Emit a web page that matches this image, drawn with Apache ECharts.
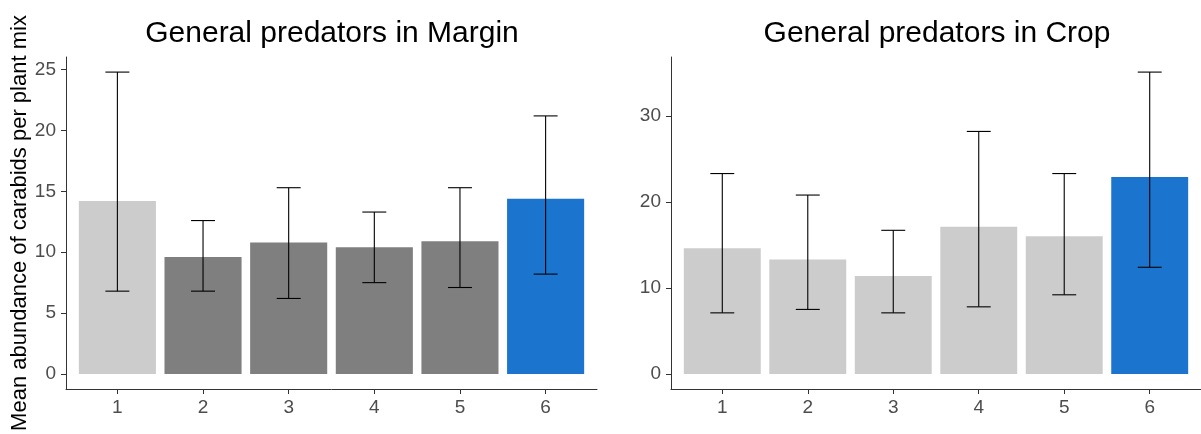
<!DOCTYPE html>
<html>
<head>
<meta charset="utf-8">
<script src="https://cdn.jsdelivr.net/npm/echarts@6/dist/echarts.min.js"></script>
<style>
  html, body { margin: 0; padding: 0; background: #ffffff; }
  #chart { width: 1201px; height: 434px; }
</style>
</head>
<body>
<div id="chart"></div>
<script>
// Plant mixes 1-6
const mixes = [1, 2, 3, 4, 5, 6];
const mixLabels = ['1', '2', '3', '4', '5', '6'];

// Margin: mean abundance with lower/upper interval
const marginMean = [14.2, 9.6, 10.8, 10.4, 10.9, 14.4];
const marginLow  = [6.8, 6.8, 6.2, 7.5, 7.1, 8.2];
const marginHigh = [24.8, 12.6, 15.3, 13.3, 15.3, 21.2];
const marginGroup = ['light', 'dark', 'dark', 'dark', 'dark', 'blue'];

// Crop: mean abundance with lower/upper interval
const cropMean = [14.6, 13.3, 11.4, 17.1, 16.0, 22.9];
const cropLow  = [7.1, 7.5, 7.1, 7.8, 9.2, 12.4];
const cropHigh = [23.3, 20.8, 16.7, 28.2, 23.3, 35.1];
const cropGroup = ['light', 'light', 'light', 'light', 'light', 'blue'];

const marginTicks = [0, 5, 10, 15, 20, 25];
const cropTicks = [0, 10, 20, 30];

const fills = { light: '#cccccc', dark: '#7f7f7f', blue: '#1b75cf' };
const FONT = "'Liberation Sans', Arial, sans-serif";
const BAR_HALF = 0.45;
const CAP_HALF = 0.14;

// 5% padding on both ends of the value range, like the default plot expansion
function expand(lo, hi) {
  const span = hi - lo;
  return [lo - span * 0.05, hi + span * 0.05];
}

function barSeries(idx, means, groups) {
  return {
    type: 'custom',
    xAxisIndex: idx, yAxisIndex: idx,
    data: mixes.map((m, i) => [m, means[i], i]),
    renderItem: function (params, api) {
      const x = api.value(0), y = api.value(1);
      const g = groups[api.value(2)];
      const a = api.coord([x - BAR_HALF, y]);
      const b = api.coord([x + BAR_HALF, 0]);
      return {
        type: 'rect',
        shape: { x: a[0], y: a[1], width: b[0] - a[0], height: b[1] - a[1] },
        style: { fill: fills[g] }
      };
    },
    z: 2
  };
}

function errSeries(idx, lows, highs) {
  return {
    type: 'custom',
    xAxisIndex: idx, yAxisIndex: idx,
    data: mixes.map((m, i) => [m, lows[i], highs[i]]),
    renderItem: function (params, api) {
      const x = api.value(0);
      const lo = api.coord([x, api.value(1)]);
      const hi = api.coord([x, api.value(2)]);
      const l = api.coord([x - CAP_HALF, 0])[0];
      const r = api.coord([x + CAP_HALF, 0])[0];
      const st = { stroke: '#000000', lineWidth: 1.1 };
      return {
        type: 'group',
        children: [
          { type: 'line', shape: { x1: lo[0], y1: lo[1], x2: hi[0], y2: hi[1] }, style: st },
          { type: 'line', shape: { x1: l, y1: lo[1], x2: r, y2: lo[1] }, style: st },
          { type: 'line', shape: { x1: l, y1: hi[1], x2: r, y2: hi[1] }, style: st }
        ]
      };
    },
    z: 3
  };
}

function xAxisFor(idx) {
  return {
    type: 'value', gridIndex: idx, min: 0.4, max: 6.6,
    axisLine: { show: true, onZero: false, lineStyle: { color: '#333333', width: 1 } },
    axisTick: { show: true, length: 5, customValues: mixes, lineStyle: { color: '#333333' } },
    axisLabel: {
      customValues: mixes, margin: 9, color: '#4d4d4d', fontSize: 19, fontFamily: FONT,
      formatter: v => mixLabels[mixes.indexOf(v)]
    },
    splitLine: { show: false }
  };
}

function yAxisFor(idx, ticks, range, name) {
  return {
    type: 'value', gridIndex: idx, min: range[0], max: range[1],
    name: name, nameLocation: 'middle', nameRotate: 90, nameGap: 33,
    nameTextStyle: { color: '#000000', fontSize: 22, fontFamily: FONT },
    axisLine: { show: true, onZero: false, lineStyle: { color: '#333333', width: 1 } },
    axisTick: { show: true, length: 5, customValues: ticks, lineStyle: { color: '#333333' } },
    axisLabel: { customValues: ticks, margin: 10, color: '#4d4d4d', fontSize: 19, fontFamily: FONT },
    splitLine: { show: false }
  };
}

const marginRange = expand(0, Math.max(...marginHigh));
const cropRange = expand(0, Math.max(...cropHigh));

const chart = echarts.init(document.getElementById('chart'), null, { renderer: 'canvas' });
chart.setOption({
  animation: false,
  backgroundColor: '#ffffff',
  title: [
    { text: 'General predators in Margin', left: 332, top: 19, textAlign: 'center', padding: 0,
      textStyle: { color: '#000000', fontSize: 30, fontWeight: 'normal', fontFamily: FONT } },
    { text: 'General predators in Crop', left: 937, top: 19, textAlign: 'center', padding: 0,
      textStyle: { color: '#000000', fontSize: 30, fontWeight: 'normal', fontFamily: FONT } }
  ],
  grid: [
    { left: 66, top: 57, width: 531, height: 332 },
    { left: 671, top: 57, width: 532, height: 332 }
  ],
  xAxis: [xAxisFor(0), xAxisFor(1)],
  yAxis: [
    yAxisFor(0, marginTicks, marginRange, 'Mean abundance of carabids per plant mix'),
    yAxisFor(1, cropTicks, cropRange, '')
  ],
  series: [
    barSeries(0, marginMean, marginGroup),
    errSeries(0, marginLow, marginHigh),
    barSeries(1, cropMean, cropGroup),
    errSeries(1, cropLow, cropHigh)
  ]
});
</script>
</body>
</html>
